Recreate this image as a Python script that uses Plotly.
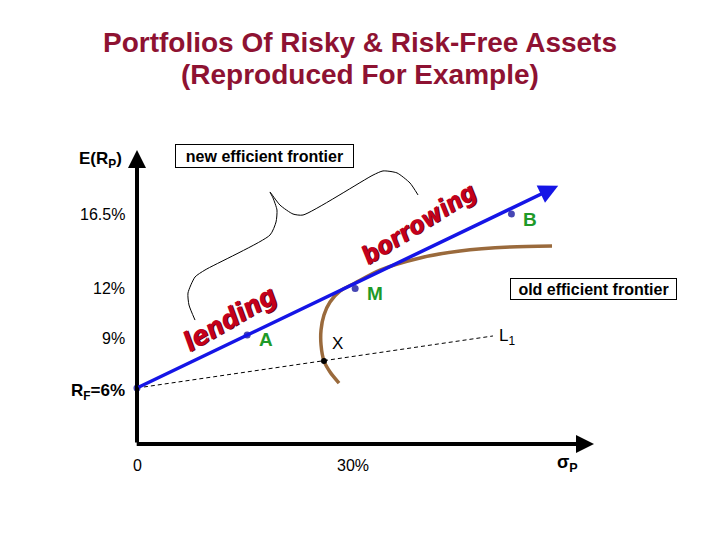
import plotly.graph_objects as go

# ---------------- data ----------------
x_tick_vals = [0, 30]
x_tick_text = ["0", "30%"]
y_tick_vals = [16.5, 12, 9, 6]
y_tick_text = ["16.5%", "12%", "9%", "R<sub>F</sub>=6%"]

rf_point = [0.0, 6.0]
cml_tip = [58.5, 18.2]

pt_names = ["A", "M", "B"]
pt_x = [15.3, 30.3, 52.0]
pt_y = [9.2, 12.0, 16.5]

x_point = [25.97, 7.63]
l1_end = [49.44, 9.14]

frontier_x = [28.06, 26.81, 25.97, 25.56, 25.56, 25.97, 26.81, 28.19, 30.28, 33.75, 39.31, 44.86, 51.81, 57.64]
frontier_y = [6.30, 6.97, 7.63, 8.60, 9.50, 10.41, 11.19, 11.85, 12.34, 13.12, 13.85, 14.27, 14.51, 14.57]

brace_x = [8.06, 7.22, 7.08, 8.06, 9.44, 18.47, 19.31, 19.44, 18.89, 18.47, 19.86, 21.67, 23.06, 32.78, 34.17, 36.11, 37.92, 39.03]
brace_y = [10.10, 11.01, 11.73, 12.70, 13.12, 15.23, 16.02, 16.74, 17.47, 17.83, 17.04, 16.50, 16.44, 18.85, 19.10, 18.98, 18.37, 17.65]

axis_bottom = 2.62
axis_y_top = 20.36
axis_x_right = 63.47

# ---------------- styling ----------------
FONT = "Liberation Sans, Arial, sans-serif"
NARROW = "DejaVu Sans Condensed, Liberation Sans Narrow, Arial Narrow, sans-serif"
BLUE = "#1515E6"
DOT = "#4646B4"
BROWN = "#9A6A3C"
GREEN = "#1E9A28"
TITLE_RED = "#8E1232"
WORD_RED = "#C4001C"

fig = go.Figure()

# brace
fig.add_trace(go.Scatter(x=brace_x, y=brace_y, mode="lines",
                         line=dict(color="black", width=1, shape="spline", smoothing=0.6),
                         hoverinfo="skip", showlegend=False))
# L1 dashed line
fig.add_trace(go.Scatter(x=[rf_point[0], l1_end[0]], y=[rf_point[1], l1_end[1]], mode="lines",
                         line=dict(color="black", width=1, dash="4px,3px"),
                         hoverinfo="skip", showlegend=False))
# old efficient frontier
fig.add_trace(go.Scatter(x=frontier_x, y=frontier_y, mode="lines",
                         line=dict(color=BROWN, width=3.5, shape="spline", smoothing=0.8),
                         hoverinfo="skip", showlegend=False))

annotations = []
# axes arrows
annotations.append(dict(x=0, y=axis_y_top, ax=0, ay=axis_bottom, xref="x", yref="y",
                        axref="x", ayref="y", showarrow=True, arrowhead=2, arrowsize=0.9,
                        arrowwidth=4, arrowcolor="black", text=""))
annotations.append(dict(x=axis_x_right, y=axis_bottom, ax=-0.25, ay=axis_bottom, xref="x", yref="y",
                        axref="x", ayref="y", showarrow=True, arrowhead=2, arrowsize=0.9,
                        arrowwidth=4, arrowcolor="black", text=""))
# capital market line (new efficient frontier)
annotations.append(dict(x=cml_tip[0], y=cml_tip[1], ax=rf_point[0], ay=rf_point[1], xref="x", yref="y",
                        axref="x", ayref="y", showarrow=True, arrowhead=2, arrowsize=1.1,
                        arrowwidth=3.5, arrowcolor=BLUE, text=""))

fig.update_layout(annotations=annotations)

# dots
fig.add_trace(go.Scatter(x=[rf_point[0]] + pt_x, y=[rf_point[1]] + pt_y, mode="markers",
                         marker=dict(color=DOT, size=7),
                         hoverinfo="skip", showlegend=False))
fig.add_trace(go.Scatter(x=[x_point[0]], y=[x_point[1]], mode="markers",
                         marker=dict(color="black", size=6),
                         hoverinfo="skip", showlegend=False))

# point labels
for name, px_, py_ in zip(pt_names, pt_x, pt_y):
    fig.add_annotation(x=px_, y=py_, text="<b>%s</b>" % name, showarrow=False,
                       xanchor="left", yanchor="middle", xshift=10, yshift=-5,
                       font=dict(family=FONT, size=19, color=GREEN))
fig.add_annotation(x=x_point[0], y=x_point[1], text="X", showarrow=False,
                   xanchor="left", yanchor="middle", xshift=6, yshift=17,
                   font=dict(family=FONT, size=17, color="black"))
fig.add_annotation(x=l1_end[0], y=l1_end[1], text="L<sub>1</sub>", showarrow=False,
                   xanchor="left", yanchor="middle", xshift=4, yshift=-1,
                   font=dict(family=FONT, size=17, color="black"))

# tick labels
for v, t in zip(y_tick_vals, y_tick_text):
    bold = t.startswith("R")
    fig.add_annotation(x=0, y=v, text=("<b>%s</b>" % t) if bold else t, showarrow=False,
                       xanchor="right", yanchor="middle", xshift=-10,
                       yshift=-4 if bold else 0,
                       font=dict(family=FONT, size=17 if bold else 16, color="black"))
for v, t in zip(x_tick_vals, x_tick_text):
    fig.add_annotation(x=v, y=axis_bottom, text=t, showarrow=False,
                       xanchor="center", yanchor="middle", yshift=-21,
                       font=dict(family=FONT, size=16, color="black"))
fig.add_annotation(x=axis_x_right, y=axis_bottom, text="<b>σ<sub>P</sub></b>", showarrow=False,
                   xanchor="center", yanchor="middle", xshift=-26, yshift=-19,
                   font=dict(family=FONT, size=18, color="black"))
fig.add_annotation(x=0, y=axis_y_top, text="<b>E(R<sub>P</sub>)</b>", showarrow=False,
                   xanchor="right", yanchor="middle", xshift=-13, yshift=-10,
                   font=dict(family=FONT, size=17, color="black"))

# boxes
fig.add_annotation(xref="paper", yref="paper", x=264 / 720, y=1 - 156 / 540,
                   xanchor="center", yanchor="middle",
                   text="<b>new efficient frontier</b>", showarrow=False, width=177, height=22,
                   bordercolor="black", borderwidth=1, borderpad=0, bgcolor="white",
                   font=dict(family=FONT, size=16, color="black"))
fig.add_annotation(xref="paper", yref="paper", x=593.5 / 720, y=1 - 289 / 540,
                   xanchor="center", yanchor="middle",
                   text="<b>old efficient frontier</b>", showarrow=False, width=165, height=20,
                   bordercolor="black", borderwidth=1, borderpad=0, bgcolor="white",
                   font=dict(family=FONT, size=16, color="black"))

# word art
fig.add_annotation(xref="paper", yref="paper", x=229 / 720, y=1 - 318 / 540,
                   xanchor="center", yanchor="middle",
                   text="<b><i>lending</i></b>", showarrow=False, textangle=-30,
                   font=dict(family=NARROW, size=27, color=WORD_RED,
                             shadow="1px 1px 0px #6a0012"))
fig.add_annotation(xref="paper", yref="paper", x=419 / 720, y=1 - 224 / 540,
                   xanchor="center", yanchor="middle",
                   text="<b><i>borrowing</i></b>", showarrow=False, textangle=-32,
                   font=dict(family=NARROW, size=25, color=WORD_RED,
                             shadow="1px 1px 0px #6a0012"))

# title
fig.add_annotation(xref="paper", yref="paper", x=0.5, y=1 - 43 / 540,
                   text="<b>Portfolios Of Risky & Risk-Free Assets</b>",
                   showarrow=False, xanchor="center", yanchor="middle",
                   font=dict(family=FONT, size=28, color=TITLE_RED))
fig.add_annotation(xref="paper", yref="paper", x=0.5, y=1 - 75 / 540,
                   text="<b>(Reproduced For Example)</b>",
                   showarrow=False, xanchor="center", yanchor="middle",
                   font=dict(family=FONT, size=28, color=TITLE_RED))

fig.update_layout(
    width=720, height=540, margin=dict(l=0, r=0, t=0, b=0),
    paper_bgcolor="white", plot_bgcolor="white",
    xaxis=dict(range=[-137 / 7.2, 583 / 7.2], visible=False, fixedrange=True),
    yaxis=dict(range=[6 - 152 / 16.57, 6 + 388 / 16.57], visible=False, fixedrange=True),
    showlegend=False,
)

fig.write_html("out.html")
